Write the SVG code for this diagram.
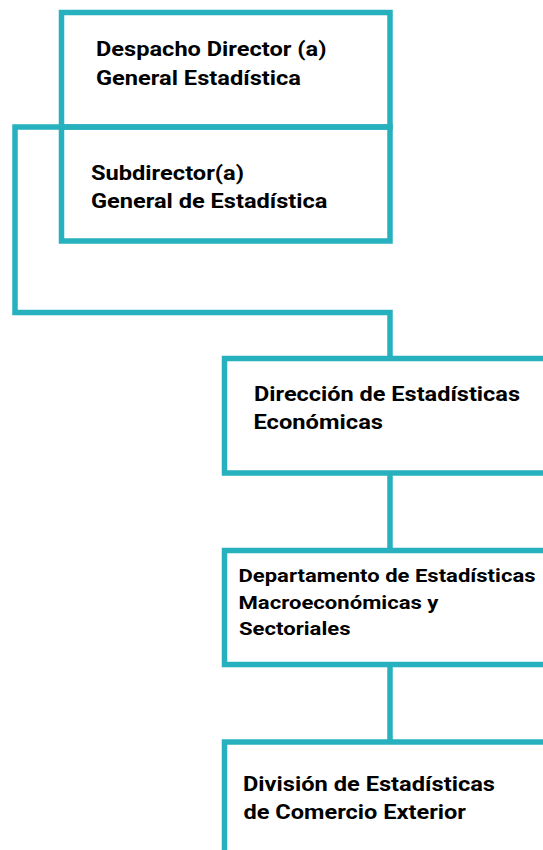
<svg xmlns="http://www.w3.org/2000/svg" width="543" height="850" viewBox="0 0 543 850">
<style>
.box{fill:none;stroke:#27b1be;stroke-width:5.5}
.con{fill:none;stroke:#27b1be;stroke-width:5.5}
text{font-family:Roboto,"Liberation Sans",sans-serif;font-weight:bold;font-size:20px;fill:#000}
.s{font-size:19px}
</style>
<rect width="543" height="850" fill="#fff"/>
<g id="connectors">
<path class="con" d="M62 127 H15 V312.5 H390 V358.5"/>
<path class="con" d="M390 473 V550.5"/>
<path class="con" d="M390 664.5 V742"/>
</g>
<g id="despacho">
<rect class="box" x="61.5" y="12.5" width="328.5" height="114.5"/>
<text x="96" y="56.3" textLength="230.5" lengthAdjust="spacingAndGlyphs">Despacho Director (a)</text>
<text x="96" y="85" textLength="205" lengthAdjust="spacingAndGlyphs">General Estadística</text>
</g>
<g id="subdirector">
<rect class="box" x="61.5" y="127" width="328.5" height="114"/>
<text x="91" y="179.5" textLength="153" lengthAdjust="spacingAndGlyphs">Subdirector(a)</text>
<text x="91" y="208" textLength="236.5" lengthAdjust="spacingAndGlyphs">General de Estadística</text>
</g>
<g id="direccion">
<rect class="box" x="224.5" y="358.5" width="340" height="114.5"/>
<text x="254" y="400.8" textLength="266" lengthAdjust="spacingAndGlyphs">Dirección de Estadísticas</text>
<text x="253.5" y="429" textLength="129.5" lengthAdjust="spacingAndGlyphs">Económicas</text>
</g>
<g id="departamento">
<rect class="box" x="224.5" y="550.5" width="340" height="114"/>
<text class="s" x="238.5" y="581.6" textLength="297" lengthAdjust="spacingAndGlyphs">Departamento de Estadísticas</text>
<text class="s" x="238.5" y="608.5" textLength="200" lengthAdjust="spacingAndGlyphs">Macroeconómicas y</text>
<text class="s" x="239" y="635" textLength="111.5" lengthAdjust="spacingAndGlyphs">Sectoriales</text>
</g>
<g id="division">
<rect class="box" x="224.5" y="742" width="340" height="140"/>
<text x="243" y="790.7" textLength="252" lengthAdjust="spacingAndGlyphs">División de Estadísticas</text>
<text x="243.5" y="819" textLength="222.5" lengthAdjust="spacingAndGlyphs">de Comercio Exterior</text>
</g>
</svg>
